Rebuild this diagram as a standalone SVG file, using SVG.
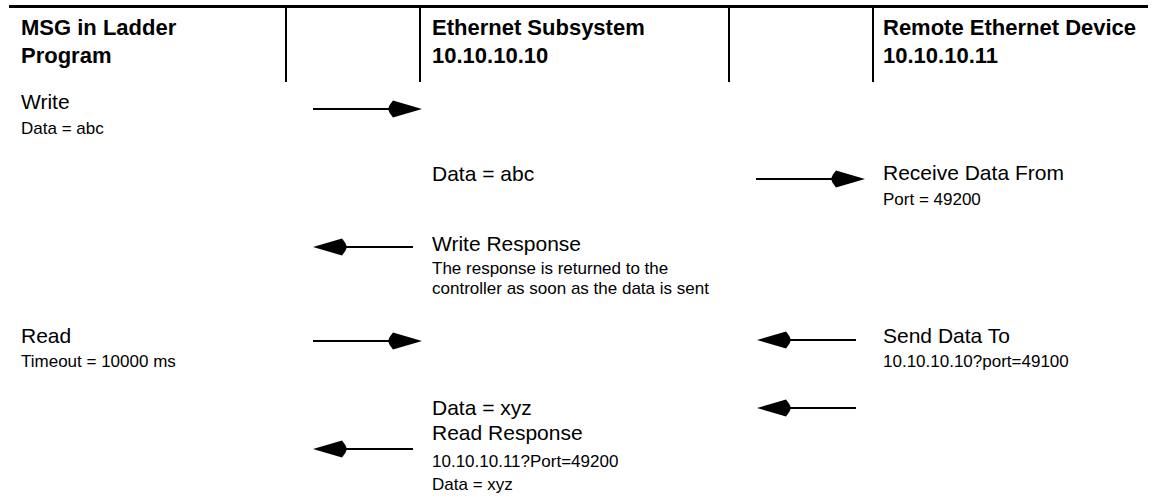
<svg xmlns="http://www.w3.org/2000/svg" width="1157" height="499" viewBox="0 0 1157 499">
<style>
.h{font-family:"Liberation Sans",Arial,sans-serif;font-weight:bold;font-size:22px;fill:#000}
.b{font-family:"Liberation Sans",Arial,sans-serif;font-size:21px;fill:#000}
.s{font-family:"Liberation Sans",Arial,sans-serif;font-size:17px;fill:#000}
.rule{stroke:#000;stroke-width:3}
.div{stroke:#000;stroke-width:2}
.arr{stroke:#000;stroke-width:2;fill:none;marker-end:url(#ah)}
</style>
<defs>
<marker id="ah" markerUnits="userSpaceOnUse" markerWidth="40" markerHeight="20" viewBox="-16 -10 40 20" refX="0" refY="0" orient="auto" overflow="visible">
<path d="M20,0 L-9,-8.5 Q-13,-4 -14,0 Q-13,4 -9,8.5 Z" fill="#000"/>
</marker>
</defs>
<rect width="1157" height="499" fill="#fff"/>
<g id="header">
<line class="rule" x1="9" y1="6.5" x2="1148" y2="6.5"/>
<line class="div" x1="286" y1="8" x2="286" y2="82"/>
<line class="div" x1="420" y1="8" x2="420" y2="82"/>
<line class="div" x1="729" y1="8" x2="729" y2="82"/>
<line class="div" x1="873" y1="8" x2="873" y2="82"/>
</g>
<g id="col-msg">
<text class="h" x="21" y="35">MSG in Ladder</text>
<text class="h" x="21" y="63">Program</text>
</g>
<g id="col-ethernet">
<text class="h" x="432" y="35">Ethernet Subsystem</text>
<text class="h" x="432" y="63">10.10.10.10</text>
</g>
<g id="col-remote">
<text class="h" x="883" y="35">Remote Ethernet Device</text>
<text class="h" x="883" y="63">10.10.10.11</text>
</g>
<g id="write">
<text class="b" x="21" y="109">Write</text>
<text class="s" x="21" y="134">Data = abc</text>
</g>
<g id="data-abc">
<text class="b" x="432" y="181">Data = abc</text>
</g>
<g id="receive">
<text class="b" x="883" y="180">Receive Data From</text>
<text class="s" x="883" y="205">Port = 49200</text>
</g>
<g id="write-response">
<text class="b" x="432" y="251">Write Response</text>
<text class="s" x="432" y="274">The response is returned to the</text>
<text class="s" x="432" y="294">controller as soon as the data is sent</text>
</g>
<g id="read">
<text class="b" x="21" y="343">Read</text>
<text class="s" x="21" y="367">Timeout = 10000 ms</text>
</g>
<g id="send">
<text class="b" x="883" y="343">Send Data To</text>
<text class="s" x="883" y="367">10.10.10.10?port=49100</text>
</g>
<g id="read-response">
<text class="b" x="432" y="415">Data = xyz</text>
<text class="b" x="432" y="440">Read Response</text>
<text class="s" x="432" y="467">10.10.10.11?Port=49200</text>
<text class="s" x="432" y="490">Data = xyz</text>
</g>
<g id="connectors">
<line class="arr" x1="313" y1="109" x2="402" y2="109"/>
<line class="arr" x1="756" y1="179" x2="845" y2="179"/>
<line class="arr" x1="413" y1="247" x2="333" y2="247"/>
<line class="arr" x1="313" y1="341" x2="402" y2="341"/>
<line class="arr" x1="856" y1="340" x2="777" y2="340"/>
<line class="arr" x1="856" y1="408" x2="777" y2="408"/>
<line class="arr" x1="413" y1="449" x2="333" y2="449"/>
</g>
</svg>
